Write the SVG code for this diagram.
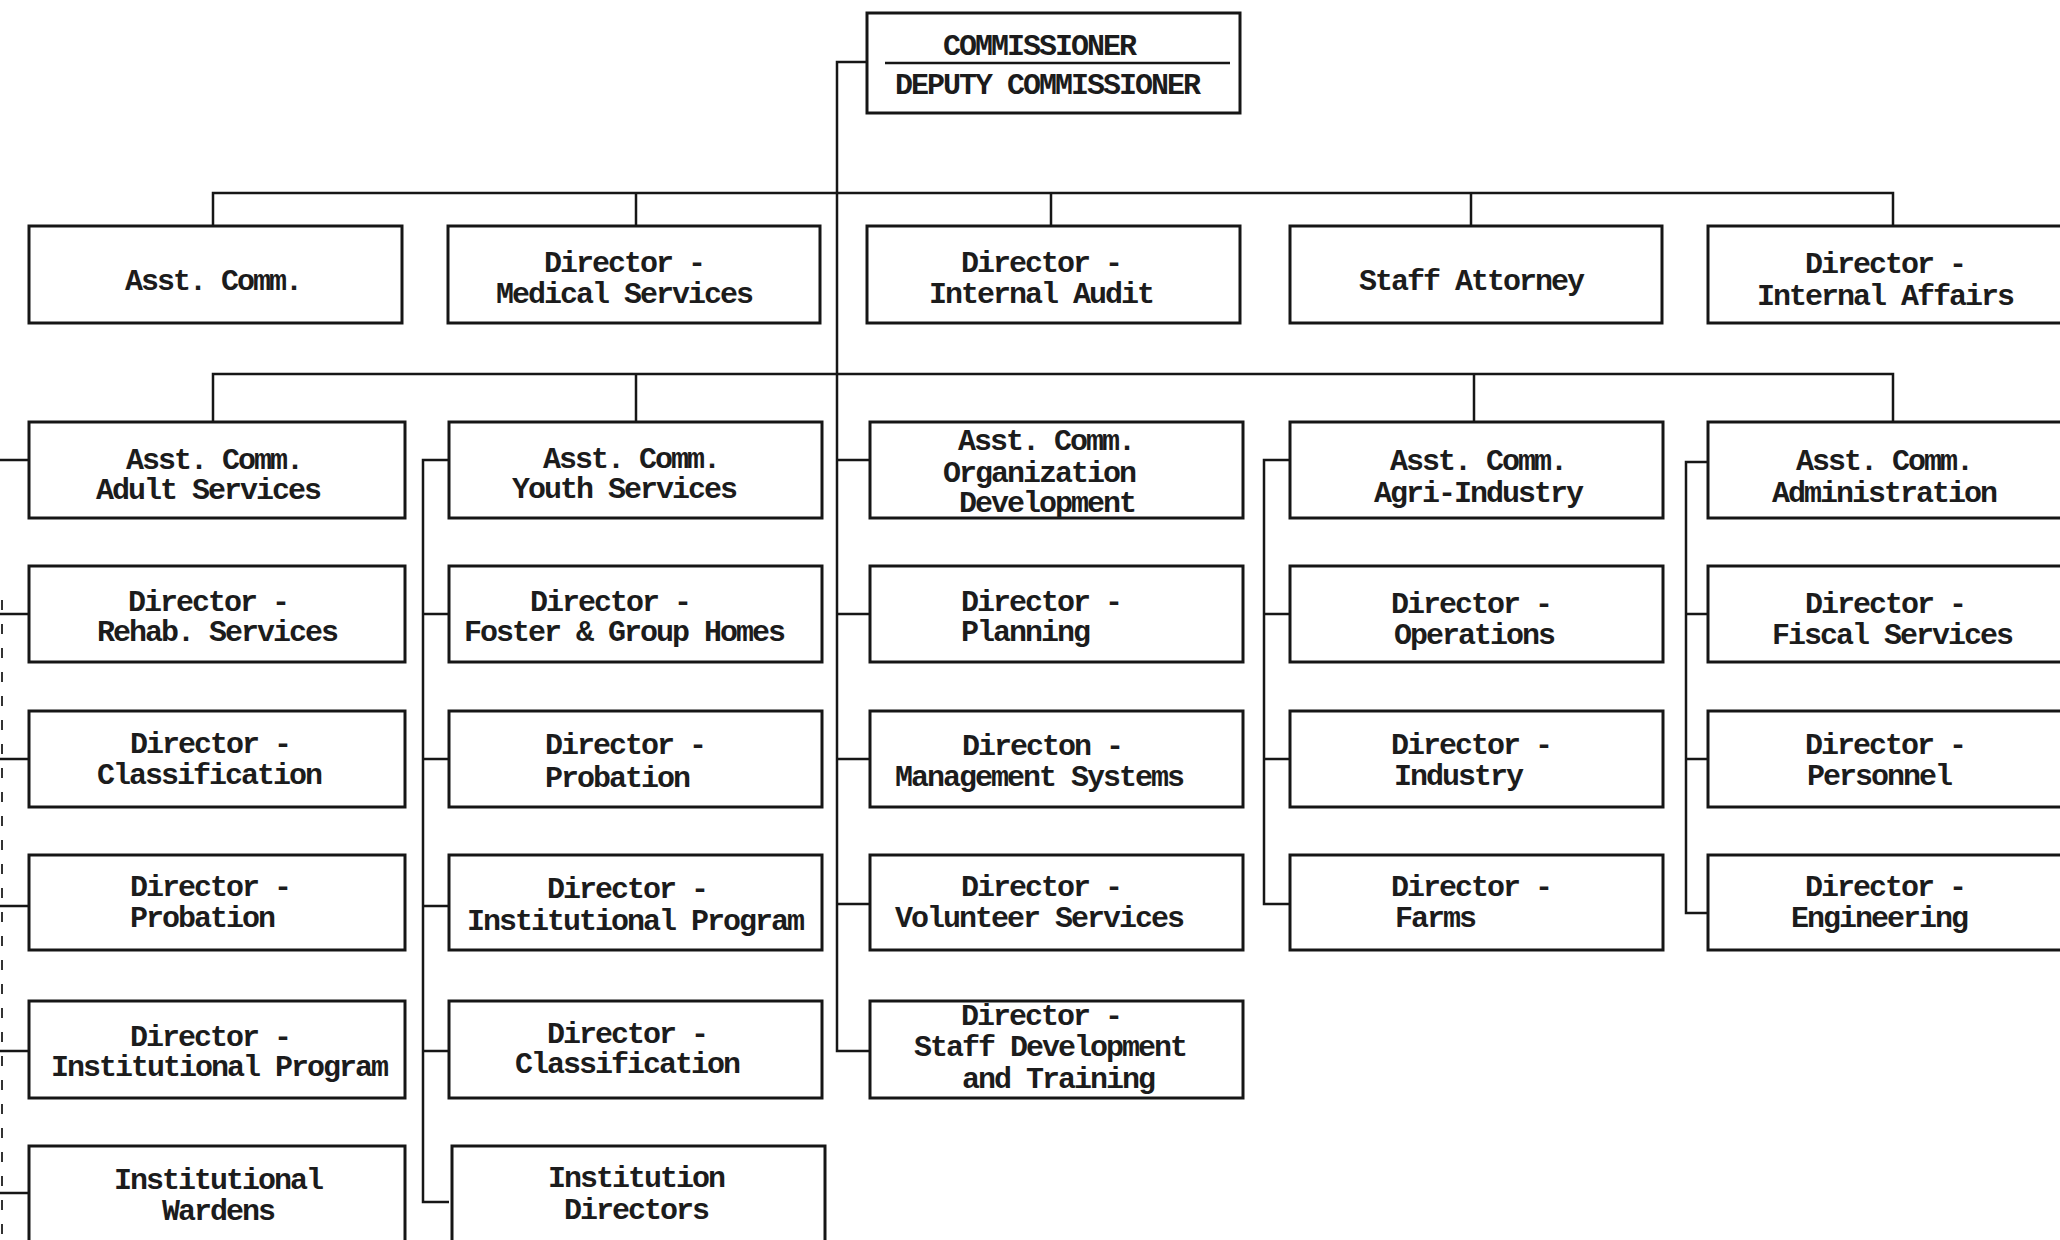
<svg xmlns="http://www.w3.org/2000/svg" width="2060" height="1240" viewBox="0 0 2060 1240">
<style>
.box{fill:#fff;stroke:#161616;stroke-width:3}
.t{font-family:"Liberation Mono","Courier New",monospace;font-size:30px;letter-spacing:-2px;font-weight:bold;fill:#1c1c1c;text-anchor:middle}
.c{stroke:#161616;stroke-width:2.5;fill:none}
.d{stroke:#333;stroke-width:2;fill:none;stroke-dasharray:10 14}
</style>
<rect width="2060" height="1240" fill="#fff"/>
<g id="connectors">
<path class="c" d="M867 62H837V1051H870"/>
<path class="c" d="M213 226V193H1893V226M636 193V226M1051 193V226M1471 193V226"/>
<path class="c" d="M213 422V374H1893V422M636 374V422M1474 374V422"/>
<path class="c" d="M837 460H870M837 614H870M837 759H870M837 904H870"/>
<path class="c" d="M449 460H423V1202H449M423 614H449M423 759H449M423 906H449M423 1051H449"/>
<path class="c" d="M1290 460H1264V904H1290M1264 614H1290M1264 759H1290"/>
<path class="c" d="M1708 462H1686V913H1708M1686 614H1708M1686 759H1708"/>
<path class="c" d="M0 460H29M0 614H29M0 759H29M0 906H29M0 1051H29M0 1193H29"/>
<path class="d" d="M2 600V1240"/>
</g>
<g id="commissioner"><rect class="box" x="867" y="13" width="373" height="100"/><line class="c" x1="885" y1="63" x2="1230" y2="63"/><text class="t" x="1039" y="55">COMMISSIONER</text><text class="t" x="1047" y="94">DEPUTY COMMISSIONER</text></g>
<g id="asst-comm"><rect class="box" x="29" y="226" width="373" height="97"/><text class="t" x="213" y="290">Asst. Comm.</text></g>
<g id="medical"><rect class="box" x="448" y="226" width="372" height="97"/><text class="t" x="624" y="272">Director -</text><text class="t" x="624" y="303">Medical Services</text></g>
<g id="internal-audit"><rect class="box" x="867" y="226" width="373" height="97"/><text class="t" x="1041" y="272">Director -</text><text class="t" x="1041" y="303">Internal Audit</text></g>
<g id="staff-attorney"><rect class="box" x="1290" y="226" width="372" height="97"/><text class="t" x="1471" y="290">Staff Attorney</text></g>
<g id="internal-affairs"><rect class="box" x="1708" y="226" width="370" height="97"/><text class="t" x="1885" y="273">Director -</text><text class="t" x="1885" y="305">Internal Affairs</text></g>
<g id="adult"><rect class="box" x="29" y="422" width="376" height="96"/><text class="t" x="214" y="469">Asst. Comm.</text><text class="t" x="208" y="499">Adult Services</text></g>
<g id="youth"><rect class="box" x="449" y="422" width="373" height="96"/><text class="t" x="631" y="468">Asst. Comm.</text><text class="t" x="624" y="498">Youth Services</text></g>
<g id="orgdev"><rect class="box" x="870" y="422" width="373" height="96"/><text class="t" x="1046" y="450">Asst. Comm.</text><text class="t" x="1039" y="482">Organization</text><text class="t" x="1047" y="512">Development</text></g>
<g id="agri"><rect class="box" x="1290" y="422" width="373" height="96"/><text class="t" x="1478" y="470">Asst. Comm.</text><text class="t" x="1478" y="502">Agri-Industry</text></g>
<g id="admin"><rect class="box" x="1708" y="422" width="370" height="96"/><text class="t" x="1884" y="470">Asst. Comm.</text><text class="t" x="1884" y="502">Administration</text></g>
<g id="rehab"><rect class="box" x="29" y="566" width="376" height="96"/><text class="t" x="208" y="611">Director -</text><text class="t" x="217" y="641">Rehab. Services</text></g>
<g id="foster"><rect class="box" x="449" y="566" width="373" height="96"/><text class="t" x="610" y="611">Director -</text><text class="t" x="624" y="641">Foster &amp; Group Homes</text></g>
<g id="planning"><rect class="box" x="870" y="566" width="373" height="96"/><text class="t" x="1041" y="611">Director -</text><text class="t" x="1025" y="641">Planning</text></g>
<g id="operations"><rect class="box" x="1290" y="566" width="373" height="96"/><text class="t" x="1471" y="613">Director -</text><text class="t" x="1474" y="644">Operations</text></g>
<g id="fiscal"><rect class="box" x="1708" y="566" width="370" height="96"/><text class="t" x="1885" y="613">Director -</text><text class="t" x="1892" y="644">Fiscal Services</text></g>
<g id="classification-a"><rect class="box" x="29" y="711" width="376" height="96"/><text class="t" x="210" y="753">Director -</text><text class="t" x="209" y="784">Classification</text></g>
<g id="probation-y"><rect class="box" x="449" y="711" width="373" height="96"/><text class="t" x="625" y="754">Director -</text><text class="t" x="617" y="787">Probation</text></g>
<g id="mgmt"><rect class="box" x="870" y="711" width="373" height="96"/><text class="t" x="1042" y="755">Directon -</text><text class="t" x="1039" y="786">Management Systems</text></g>
<g id="industry"><rect class="box" x="1290" y="711" width="373" height="96"/><text class="t" x="1471" y="754">Director -</text><text class="t" x="1458" y="785">Industry</text></g>
<g id="personnel"><rect class="box" x="1708" y="711" width="370" height="96"/><text class="t" x="1885" y="754">Director -</text><text class="t" x="1879" y="785">Personnel</text></g>
<g id="probation-a"><rect class="box" x="29" y="855" width="376" height="95"/><text class="t" x="210" y="896">Director -</text><text class="t" x="202" y="927">Probation</text></g>
<g id="instprog-y"><rect class="box" x="449" y="855" width="373" height="95"/><text class="t" x="627" y="898">Director -</text><text class="t" x="635" y="930">Institutional Program</text></g>
<g id="volunteer"><rect class="box" x="870" y="855" width="373" height="95"/><text class="t" x="1041" y="896">Director -</text><text class="t" x="1039" y="927">Volunteer Services</text></g>
<g id="farms"><rect class="box" x="1290" y="855" width="373" height="95"/><text class="t" x="1471" y="896">Director -</text><text class="t" x="1435" y="927">Farms</text></g>
<g id="engineering"><rect class="box" x="1708" y="855" width="370" height="95"/><text class="t" x="1885" y="896">Director -</text><text class="t" x="1879" y="927">Engineering</text></g>
<g id="instprog-a"><rect class="box" x="29" y="1001" width="376" height="97"/><text class="t" x="210" y="1046">Director -</text><text class="t" x="219" y="1076">Institutional Program</text></g>
<g id="classification-y"><rect class="box" x="449" y="1001" width="373" height="97"/><text class="t" x="627" y="1043">Director -</text><text class="t" x="627" y="1073">Classification</text></g>
<g id="staffdev"><rect class="box" x="870" y="1001" width="373" height="97"/><text class="t" x="1041" y="1025">Director -</text><text class="t" x="1050" y="1056">Staff Development</text><text class="t" x="1058" y="1088">and Training</text></g>
<g id="wardens"><rect class="box" x="29" y="1146" width="376" height="110"/><text class="t" x="218" y="1189">Institutional</text><text class="t" x="218" y="1220">Wardens</text></g>
<g id="inst-directors"><rect class="box" x="452" y="1146" width="373" height="110"/><text class="t" x="636" y="1187">Institution</text><text class="t" x="636" y="1219">Directors</text></g>
</svg>
